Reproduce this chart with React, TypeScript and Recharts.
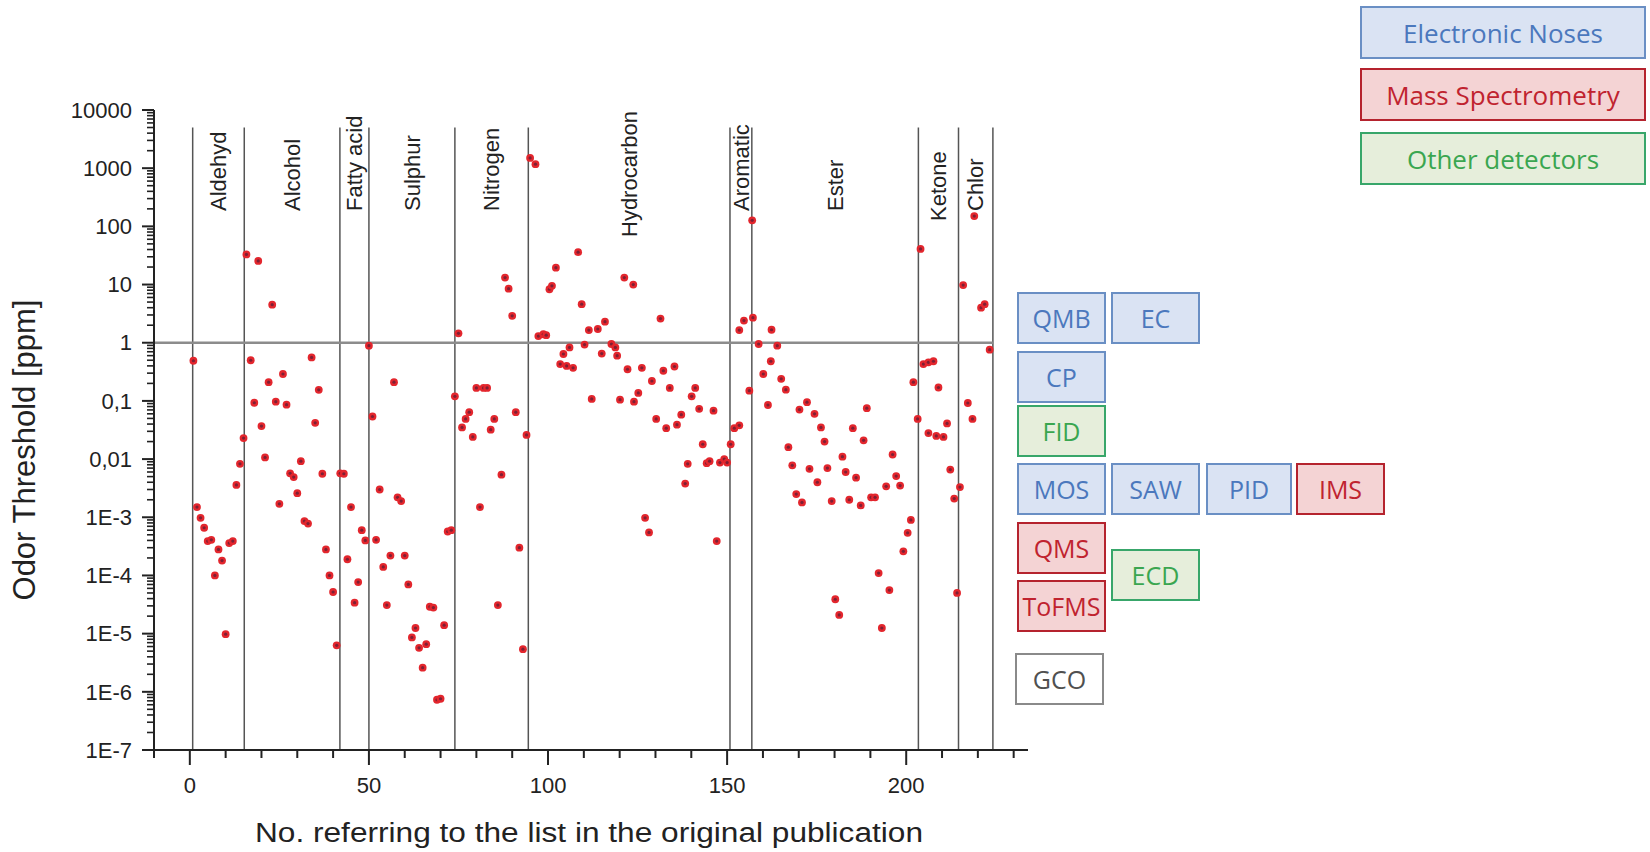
import React from 'react';
import { ReferenceLine, Scatter, ScatterChart, XAxis, YAxis } from 'recharts';

// compound groups and the separator positions on the "No." axis
const groupNames = ['Aldehyd', 'Alcohol', 'Fatty acid', 'Sulphur', 'Nitrogen', 'Hydrocarbon', 'Aromatic', 'Ester', 'Ketone', 'Chlor'];
const groupEdges = [0.8, 15.2, 41.9, 50, 74, 94.5, 150.8, 156.9, 203.4, 214.6, 224.2];
const separatorTop = 5000;

// [No., odor threshold in ppm]
const aldehyd = [
  [1, 0.49], [2, 1.5e-3], [3, 9.8e-4], [4, 6.6e-4], [5, 3.9e-4], [6, 4.1e-4], [7, 1.0e-4], [8, 2.8e-4],
  [9, 1.8e-4], [10, 9.8e-6], [11, 3.6e-4], [12, 3.9e-4], [13, 3.6e-3], [14, 8.3e-3], [15, 0.023],
];
const alcohol = [
  [15.8, 33], [17, 0.5], [18, 0.093], [19.1, 25.5], [20, 0.037], [21, 0.0107], [22, 0.21], [23, 4.5],
  [24, 0.097], [25, 0.0017], [26, 0.29], [27, 0.086], [28, 0.0057], [29, 0.0049], [30, 0.0026], [31, 0.0092],
  [32, 8.6e-4], [33, 7.8e-4], [34, 0.56], [35, 0.042], [36, 0.155], [37, 0.0056], [38, 2.8e-4], [39, 1e-4],
  [40, 5.2e-5], [41, 6.3e-6],
];
const fattyAcid = [
  [42, 0.0057], [43, 0.0056], [44, 1.9e-4], [45, 1.5e-3], [46, 3.4e-5], [47, 7.7e-5], [48, 6e-4], [49, 4e-4],
];
const sulphur = [
  [50, 0.89], [51, 0.054], [52, 4.1e-4], [53, 3e-3], [54, 1.4e-4], [55, 3.1e-5], [56, 2.2e-4], [57, 0.21],
  [58, 2.2e-3], [59, 1.9e-3], [60, 2.2e-4], [61, 7e-5], [62, 8.6e-6], [63, 1.25e-5], [64, 5.7e-6], [65, 2.6e-6],
  [66, 6.6e-6], [67, 2.9e-5], [68, 2.8e-5], [69, 7.3e-7], [70, 7.6e-7], [71, 1.4e-5], [72, 5.7e-4], [73, 6e-4],
];
const nitrogen = [
  [74, 0.12], [75, 1.45], [76, 0.035], [77, 0.049], [78, 0.064], [79, 0.024], [80, 0.167], [81, 1.5e-3],
  [82, 0.167], [83, 0.167], [84, 0.032], [85, 0.049], [86, 3.1e-5], [87, 0.0054], [88, 13.2], [89, 8.5],
  [90, 2.9], [91, 0.064], [92, 3e-4], [93, 5.4e-6], [94, 0.026],
];
const hydrocarbon = [
  [95, 1500], [96.5, 1170], [97.3, 1.3], [98.7, 1.4], [99.5, 1.35], [100.4, 8.3], [101.1, 9.5], [102.2, 19.5],
  [103.4, 0.43], [104.3, 0.64], [105.2, 0.4], [106, 0.83], [107, 0.37], [108.4, 36], [109.4, 4.6], [110.2, 0.93],
  [111.4, 1.65], [112.2, 0.108], [113.9, 1.72], [115, 0.65], [115.9, 2.3], [117.7, 0.95], [118.8, 0.83],
  [119.3, 0.6], [120.1, 0.105], [121.3, 13.2], [122.2, 0.35], [123.8, 10], [124, 0.097], [125.2, 0.137],
  [126.2, 0.37], [127.1, 9.8e-4], [128.2, 5.5e-4], [129, 0.22], [130.2, 0.049], [131.4, 2.6], [132.2, 0.33],
  [133, 0.034], [134, 0.167], [135.3, 0.39], [136, 0.039], [137.2, 0.058], [138.3, 0.0038], [139, 0.0083],
  [140.1, 0.12], [141.1, 0.167], [142.2, 0.073], [143.2, 0.018], [144.3, 0.0085], [145.1, 0.0092],
  [146.2, 0.068], [147.1, 3.9e-4], [148, 0.0087], [149.2, 0.01], [150, 0.0087],
];
const aromatic = [
  [151, 0.018], [152, 0.034], [153.4, 0.038], [153.4, 1.65], [154.7, 2.4], [156.2, 0.15],
];
const ester = [
  [157, 127], [157.2, 2.7], [158.8, 0.95], [160.1, 0.29], [161.4, 0.085], [162.2, 0.48], [162.4, 1.67],
  [164, 0.89], [165.1, 0.24], [166.4, 0.156], [167.1, 0.016], [168.2, 0.0078], [169.3, 0.0025], [170.2, 0.071],
  [170.9, 0.0018], [172.3, 0.095], [173, 0.0068], [174.4, 0.06], [175.2, 0.004], [176.2, 0.035], [177.2, 0.02],
  [178, 0.007], [179.2, 0.0019], [180.2, 3.9e-5], [181.3, 2.1e-5], [182.2, 0.011], [183.1, 0.006], [184.1, 0.002],
  [185.1, 0.034], [186, 0.0048], [187.3, 0.0016], [188.1, 0.021], [189, 0.075], [190.2, 0.0022], [191.3, 0.0022],
  [192.3, 1.1e-4], [193.2, 1.25e-5], [194.4, 0.0034], [195.3, 5.6e-5], [196.2, 0.012], [197.2, 0.0051],
  [198.3, 0.0035], [199.2, 2.6e-4], [200.4, 5.4e-4], [201.3, 9e-4], [202, 0.21], [203.2, 0.049],
];
const ketone = [
  [204, 41], [204.8, 0.43], [206.2, 0.46], [206.2, 0.028], [207.6, 0.48], [208.4, 0.025], [209, 0.17],
  [210.4, 0.024], [211.4, 0.041], [212.3, 0.0066], [213.4, 0.0021], [214.2, 5e-5],
];
const chlor = [
  [215, 0.0033], [215.9, 9.8], [217.2, 0.092], [218.5, 0.049], [219, 150], [220.9, 4.0], [221.9, 4.6], [223.3, 0.76],
];

const xTicks = [-10, 0, 10, 20, 30, 40, 50, 60, 70, 80, 90, 100, 110, 120, 130, 140, 150, 160, 170, 180, 190, 200, 210, 220, 230];
const xTickLabels = ['0', '50', '100', '150', '200'];
const yDecades = [1e-7, 1e-6, 1e-5, 1e-4, 1e-3, 1e-2, 1e-1, 1, 10, 100, 1000, 10000];
const yDecadeLabels = ['1E-7', '1E-6', '1E-5', '1E-4', '1E-3', '0,01', '0,1', '1', '10', '100', '1000', '10000'];

const yTicks: number[] = [];
yDecades.forEach((d, i) => {
  yTicks.push(d);
  if (i < yDecades.length - 1) {
    for (let m = 2; m <= 9; m++) yTicks.push(m * d);
  }
});

const points = [
  ...aldehyd, ...alcohol, ...fattyAcid, ...sulphur, ...nitrogen, ...hydrocarbon,
  ...aromatic, ...ester, ...ketone, ...chlor,
].map(([x, y]) => ({ x, y }));

const FONT = '"Liberation Sans", Arial, sans-serif';
const INK = '#222';

// where the bottom of each rotated group name sits (px)
const labelBottom: Record<string, number> = { Hydrocarbon: 237, Ketone: 221 };

const XTick = (props: any) => {
  const { x, y, payload } = props;
  const major = payload.value % 50 === 0 && payload.value >= 0;
  return (
    <g>
      <line x1={x} x2={x} y1={y} y2={y + (major ? 15 : 8)} stroke={INK} strokeWidth={2} />
      {major && (
        <text x={x} y={y + 35} dy="0.35em" textAnchor="middle" fontSize={22} fontFamily={FONT} fill={INK}>
          {xTickLabels[payload.value / 50]}
        </text>
      )}
    </g>
  );
};

const YTick = (props: any) => {
  const { x, y, payload } = props;
  const i = yDecades.indexOf(payload.value);
  const major = i >= 0;
  return (
    <g>
      <line x1={x} x2={x - (major ? 12 : 7)} y1={y} y2={y} stroke={INK} strokeWidth={major ? 2 : 1.6} />
      {major && (
        <text x={x - 22} y={y} dy="0.35em" textAnchor="end" fontSize={22} fontFamily={FONT} fill={INK}>
          {yDecadeLabels[i]}
        </text>
      )}
    </g>
  );
};

const GroupLabel = (props: any) => {
  const { viewBox, name } = props;
  if (!viewBox) return null;
  const x = viewBox.x;
  const y = labelBottom[name] ?? 211;
  return (
    <text
      x={x}
      y={y}
      dy="0.35em"
      transform={`rotate(-90 ${x} ${y})`}
      textAnchor="start"
      fontSize={22}
      fontFamily={FONT}
      fill={INK}
    >
      {name}
    </text>
  );
};

const Marker = (props: any) => {
  const { cx, cy } = props;
  if (cx == null || cy == null) return null;
  return (
    <g>
      <circle cx={cx} cy={cy} r={3.9} fill="#e3262d" />
      <circle cx={cx} cy={cy} r={1.6} fill="#7e1f34" />
    </g>
  );
};

const boxTheme: Record<string, { background: string; border: string; color: string }> = {
  en: { background: '#dae3f3', border: '#6a8fc4', color: '#4b78bd' },
  ms: { background: '#f4d3d4', border: '#b5232e', color: '#c0232f' },
  other: { background: '#e6eedb', border: '#38a66a', color: '#3aa650' },
  plain: { background: '#ffffff', border: '#8a8a8a', color: '#505050' },
};

const legendBoxes = [
  { text: 'Electronic Noses', kind: 'en', left: 1360, top: 6, width: 286, height: 53 },
  { text: 'Mass Spectrometry', kind: 'ms', left: 1360, top: 68, width: 286, height: 53 },
  { text: 'Other detectors', kind: 'other', left: 1360, top: 132, width: 286, height: 53 },
];

const detectorBoxes = [
  { text: 'QMB', kind: 'en', left: 1017, top: 292 },
  { text: 'EC', kind: 'en', left: 1111, top: 292 },
  { text: 'CP', kind: 'en', left: 1017, top: 351 },
  { text: 'FID', kind: 'other', left: 1017, top: 405 },
  { text: 'MOS', kind: 'en', left: 1017, top: 463 },
  { text: 'SAW', kind: 'en', left: 1111, top: 463 },
  { text: 'PID', kind: 'en', left: 1206, top: 463, width: 86 },
  { text: 'IMS', kind: 'ms', left: 1296, top: 463 },
  { text: 'QMS', kind: 'ms', left: 1017, top: 522 },
  { text: 'ToFMS', kind: 'ms', left: 1017, top: 580 },
  { text: 'ECD', kind: 'other', left: 1111, top: 549 },
  { text: 'GCO', kind: 'plain', left: 1015, top: 653 },
];

const Box = ({ text, kind, left, top, width = 89, height = 52, fontSize = 25 }: any) => {
  const t = boxTheme[kind];
  return (
    <div
      style={{
        position: 'absolute',
        left,
        top,
        width,
        height,
        boxSizing: 'border-box',
        background: t.background,
        border: `2px solid ${t.border}`,
        color: t.color,
        display: 'flex',
        alignItems: 'center',
        justifyContent: 'center',
        fontFamily: '"Open Sans", "Noto Sans", sans-serif',
        fontSize,
        whiteSpace: 'nowrap',
      }}
    >
      {text}
    </div>
  );
};

export default function App() {
  return (
    <div style={{ position: 'absolute', left: 0, top: 0, width: 1650, height: 852, background: '#fff', overflow: 'hidden' }}>
      <ScatterChart width={1650} height={852} margin={{ top: 110, right: 622, bottom: 42, left: 74 }}>
        <XAxis
          type="number"
          dataKey="x"
          domain={[-10, 234]}
          ticks={xTicks}
          interval={0}
          allowDataOverflow
          height={60}
          tickSize={0}
          tickMargin={0}
          tickLine={false}
          tick={<XTick />}
          axisLine={{ stroke: INK, strokeWidth: 2 }}
          label={{
            content: (p: any) => {
              const vb = p.viewBox || { x: 154, y: 750, width: 874 };
              return (
                <text
                  x={vb.x + vb.width / 2 - 2}
                  y={vb.y + 92}
                  textAnchor="middle"
                  fontSize={27}
                  textLength={668}
                  lengthAdjust="spacingAndGlyphs"
                  fontFamily={FONT}
                  fill={INK}
                >
                  No. referring to the list in the original publication
                </text>
              );
            },
          }}
        />
        <YAxis
          type="number"
          dataKey="y"
          scale="log"
          domain={[1e-7, 1e4]}
          ticks={yTicks}
          interval={0}
          allowDataOverflow
          width={80}
          tickSize={0}
          tickMargin={0}
          tickLine={false}
          tick={<YTick />}
          axisLine={{ stroke: INK, strokeWidth: 2 }}
          label={{
            content: () => (
              <text
                x={35}
                y={450}
                transform="rotate(-90 35 450)"
                textAnchor="middle"
                fontSize={31}
                fontFamily={FONT}
                fill={INK}
              >
                Odor Threshold [ppm]
              </text>
            ),
          }}
        />
        {groupEdges.map((e) => (
          <ReferenceLine
            key={`edge-${e}`}
            segment={[{ x: e, y: 1e-7 }, { x: e, y: separatorTop }]}
            stroke="#555"
            strokeWidth={1.5}
          />
        ))}
        <ReferenceLine
          segment={[{ x: -10, y: 1 }, { x: groupEdges[groupEdges.length - 1], y: 1 }]}
          stroke="#8c8c8c"
          strokeWidth={2.5}
        />
        {groupNames.map((name, i) => (
          <ReferenceLine
            key={name}
            x={(groupEdges[i] + groupEdges[i + 1]) / 2}
            stroke="none"
            label={(p: any) => <GroupLabel {...p} name={name} />}
          />
        ))}
        <Scatter data={points} shape={(p: any) => <Marker {...p} />} isAnimationActive={false} />
      </ScatterChart>
      {legendBoxes.map((b) => (
        <Box key={b.text} {...b} fontSize={26} />
      ))}
      {detectorBoxes.map((b) => (
        <Box key={b.text} {...b} />
      ))}
    </div>
  );
}
